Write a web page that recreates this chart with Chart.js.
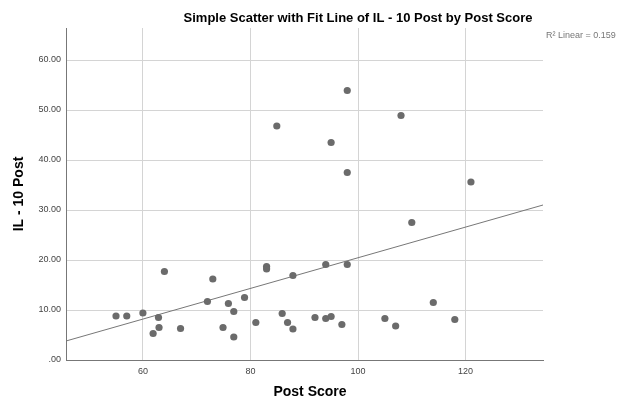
<!DOCTYPE html>
<html>
<head>
<meta charset="utf-8">
<script src="https://cdn.jsdelivr.net/npm/chart.js@4"></script>
<style>
html,body{margin:0;padding:0;background:#fff;}
#wrap{width:630px;height:400px;}
</style>
</head>
<body>
<div id="wrap"><canvas id="c" width="630" height="400"></canvas></div>
<script>
const chartTitle = "Simple Scatter with Fit Line of IL - 10 Post by Post Score";
const xTitle = "Post Score";
const yTitle = "IL - 10 Post";
const fitLabel = "R² Linear = 0.159";

const postScore = [55, 57, 60, 62.9, 63, 61.9, 64, 67, 72, 73, 75.9, 74.9, 76.9, 76.9, 78.9, 81, 83, 83, 84.9, 85.9, 86.9, 87.9, 87.9,
  92, 94, 94, 95, 95, 97, 98, 98, 98, 105, 107, 108, 110, 114, 118, 121];
const il10Post = [8.8, 8.8, 9.4, 8.5, 6.5, 5.3, 17.7, 6.3, 11.7, 16.2, 11.3, 6.5, 9.7, 4.6, 12.5, 7.5, 18.7, 18.2, 46.8, 9.3, 7.5, 16.9, 6.2,
  8.5, 19.1, 8.3, 8.7, 43.5, 7.1, 53.9, 37.5, 19.1, 8.3, 6.8, 48.9, 27.5, 11.5, 8.1, 35.6];

const fitX = [45.7, 134.4];
const fitY = [3.8, 31.0];

const xTicks = [60, 80, 100, 120];
const yTicks = [0, 10, 20, 30, 40, 50, 60];
const xRange = [45.7, 134.4];
const yRange = [0, 66.4];

const textPlugin = {
  id: 'texts',
  afterDraw(chart) {
    const ctx = chart.ctx;
    ctx.save();
    ctx.fillStyle = '#000';
    ctx.textAlign = 'center';
    ctx.textBaseline = 'middle';
    ctx.font = 'bold 13px "Liberation Sans", Arial, sans-serif';
    ctx.fillText(chartTitle, 358, 18);
    ctx.font = 'bold 14px "Liberation Sans", Arial, sans-serif';
    ctx.fillText(xTitle, 310, 392);
    ctx.save();
    ctx.translate(19, 194);
    ctx.rotate(-Math.PI / 2);
    ctx.fillText(yTitle, 0, 0);
    ctx.restore();
    ctx.font = '9px "Liberation Sans", Arial, sans-serif';
    ctx.fillStyle = '#777';
    ctx.textAlign = 'left';
    ctx.fillText(fitLabel, 546, 36);
    ctx.restore();
  }
};

new Chart(document.getElementById('c'), {
  type: 'scatter',
  data: {
    datasets: [
      {
        type: 'line',
        data: fitX.map((x, i) => ({x: x, y: fitY[i]})),
        borderColor: '#777',
        borderWidth: 1,
        pointRadius: 0,
        fill: false,
        order: 2
      },
      {
        data: postScore.map((x, i) => ({x: x, y: il10Post[i]})),
        backgroundColor: '#6b6b6b',
        borderColor: '#6b6b6b',
        borderWidth: 0,
        pointRadius: 3.6,
        order: 1
      }
    ]
  },
  options: {
    responsive: false,
    animation: false,
    events: [],
    layout: { padding: { top: 28, right: 87, left: 0, bottom: 0 } },
    plugins: { legend: { display: false }, tooltip: { enabled: false }, title: { display: false } },
    scales: {
      x: {
        type: 'linear',
        min: xRange[0], max: xRange[1],
        afterBuildTicks(s) { s.ticks = xTicks.map(v => ({value: v})); },
        afterFit(s) { s.height = 40; },
        grid: { color: '#d4d4d4', lineWidth: 1, drawTicks: false },
        border: { color: '#777', width: 1 },
        ticks: { color: '#444', font: { size: 9, family: '"Liberation Sans", Arial, sans-serif' }, padding: 6, maxRotation: 0 }
      },
      y: {
        type: 'linear',
        min: yRange[0], max: yRange[1],
        afterBuildTicks(s) { s.ticks = yTicks.map(v => ({value: v})); },
        afterFit(s) { s.width = 66; },
        grid: { color: '#d4d4d4', lineWidth: 1, drawTicks: false },
        border: { color: '#777', width: 1 },
        ticks: {
          color: '#444', font: { size: 9, family: '"Liberation Sans", Arial, sans-serif' }, padding: 5,
          callback: v => v === 0 ? '.00' : v.toFixed(2)
        }
      }
    }
  },
  plugins: [textPlugin]
});
</script>
</body>
</html>
